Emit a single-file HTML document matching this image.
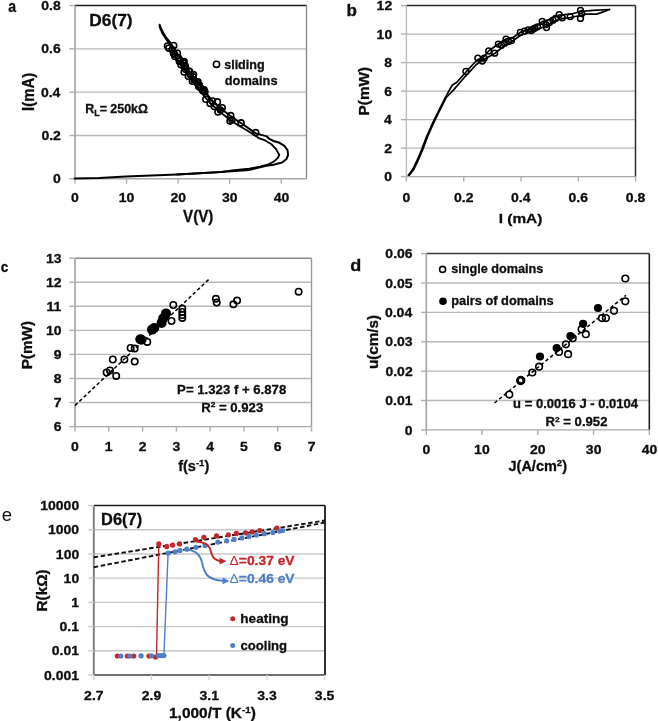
<!DOCTYPE html>
<html><head><meta charset="utf-8"><style>
html,body{margin:0;padding:0;background:#fff;width:658px;height:721px;overflow:hidden}
svg{display:block;filter:blur(0.3px)}
text{font-family:"Liberation Sans",sans-serif;stroke:#0e0e0e;stroke-width:0.3px}
</style></head><body>
<svg width="658" height="721" viewBox="0 0 658 721">
<rect width="658" height="721" fill="#fff"/>
<line x1="75.00" y1="135.48" x2="306.50" y2="135.48" stroke="#b8b8b8" stroke-width="1.4" />
<line x1="75.00" y1="92.16" x2="306.50" y2="92.16" stroke="#b8b8b8" stroke-width="1.4" />
<line x1="75.00" y1="48.84" x2="306.50" y2="48.84" stroke="#b8b8b8" stroke-width="1.4" />
<line x1="75.00" y1="5.50" x2="306.50" y2="5.50" stroke="#1e1e1e" stroke-width="1.4" />
<line x1="306.50" y1="5.50" x2="306.50" y2="178.80" stroke="#8c8c8c" stroke-width="1.4" />
<line x1="75.00" y1="5.50" x2="75.00" y2="179.50" stroke="#a8a8a8" stroke-width="1.7" />
<line x1="75.00" y1="178.80" x2="306.50" y2="178.80" stroke="#a8a8a8" stroke-width="1.4" />
<line x1="69.30" y1="178.80" x2="75.00" y2="178.80" stroke="#b0b0b0" stroke-width="1.4" />
<line x1="69.30" y1="135.48" x2="75.00" y2="135.48" stroke="#b0b0b0" stroke-width="1.4" />
<line x1="69.30" y1="92.16" x2="75.00" y2="92.16" stroke="#b0b0b0" stroke-width="1.4" />
<line x1="69.30" y1="48.84" x2="75.00" y2="48.84" stroke="#b0b0b0" stroke-width="1.4" />
<line x1="69.30" y1="5.52" x2="75.00" y2="5.52" stroke="#b0b0b0" stroke-width="1.4" />
<line x1="75.00" y1="178.80" x2="75.00" y2="183.80" stroke="#b0b0b0" stroke-width="1.4" />
<line x1="126.57" y1="178.80" x2="126.57" y2="183.80" stroke="#b0b0b0" stroke-width="1.4" />
<line x1="178.14" y1="178.80" x2="178.14" y2="183.80" stroke="#b0b0b0" stroke-width="1.4" />
<line x1="229.71" y1="178.80" x2="229.71" y2="183.80" stroke="#b0b0b0" stroke-width="1.4" />
<line x1="281.28" y1="178.80" x2="281.28" y2="183.80" stroke="#b0b0b0" stroke-width="1.4" />
<text x="53.09" y="183.42" font-size="13.20" font-weight="bold" fill="#0e0e0e" textLength="7.78" lengthAdjust="spacingAndGlyphs" >0</text>
<text x="41.41" y="140.10" font-size="13.20" font-weight="bold" fill="#0e0e0e" textLength="19.45" lengthAdjust="spacingAndGlyphs" >0.2</text>
<text x="40.92" y="96.78" font-size="13.20" font-weight="bold" fill="#0e0e0e" textLength="19.45" lengthAdjust="spacingAndGlyphs" >0.4</text>
<text x="41.34" y="53.46" font-size="13.20" font-weight="bold" fill="#0e0e0e" textLength="19.45" lengthAdjust="spacingAndGlyphs" >0.6</text>
<text x="41.27" y="10.14" font-size="13.20" font-weight="bold" fill="#0e0e0e" textLength="19.45" lengthAdjust="spacingAndGlyphs" >0.8</text>
<text x="71.12" y="201.62" font-size="13.20" font-weight="bold" fill="#0e0e0e" textLength="7.78" lengthAdjust="spacingAndGlyphs" >0</text>
<text x="118.66" y="201.62" font-size="13.20" font-weight="bold" fill="#0e0e0e" textLength="15.56" lengthAdjust="spacingAndGlyphs" >10</text>
<text x="170.41" y="201.62" font-size="13.20" font-weight="bold" fill="#0e0e0e" textLength="15.56" lengthAdjust="spacingAndGlyphs" >20</text>
<text x="222.05" y="201.62" font-size="13.20" font-weight="bold" fill="#0e0e0e" textLength="15.56" lengthAdjust="spacingAndGlyphs" >30</text>
<text x="273.69" y="201.62" font-size="13.20" font-weight="bold" fill="#0e0e0e" textLength="15.56" lengthAdjust="spacingAndGlyphs" >40</text>
<text x="183.12" y="222.35" font-size="15.94" font-weight="bold" fill="#0e0e0e" textLength="30.23" lengthAdjust="spacingAndGlyphs" >V(V)</text>
<text transform="translate(34.11,110.97) rotate(-90)" font-size="16.15" font-weight="bold" fill="#0e0e0e" textLength="38.12" lengthAdjust="spacingAndGlyphs" >I(mA)</text>
<text x="89.27" y="25.53" font-size="16.04" font-weight="bold" fill="#0e0e0e" textLength="43.32" lengthAdjust="spacingAndGlyphs" >D6(7)</text>
<text x="8.28" y="12.33" font-size="16.91" font-weight="bold" fill="#0e0e0e" textLength="7.80" lengthAdjust="spacingAndGlyphs" >a</text>
<text x="85.3" y="112.6" font-size="12" font-weight="bold" fill="#0e0e0e" textLength="62.6" lengthAdjust="spacingAndGlyphs">R<tspan font-size="8.5" dy="3.5">L</tspan><tspan dy="-3.5">= 250kΩ</tspan></text>
<circle cx="216.50" cy="64.30" r="3.1" fill="none" stroke="#000" stroke-width="1.6"/>
<text x="224.16" y="68.90" font-size="13.00" font-weight="bold" fill="#0e0e0e" textLength="40.48" lengthAdjust="spacingAndGlyphs" >sliding</text>
<text x="224.79" y="85.40" font-size="13.00" font-weight="bold" fill="#0e0e0e" textLength="52.75" lengthAdjust="spacingAndGlyphs" >domains</text>
<polyline points="74.6,178.5 99.2,178.0 125.9,176.6 177.0,174.5 220.8,172.0 249.0,170.0 266.2,165.8 273.5,164.7 282.0,162.5 286.3,159.3 288.1,155.0 287.5,150.1 284.4,145.9 279.6,142.8 273.5,141.0 269.8,139.2 266.2,136.1 261.3,134.9 255.3,133.1 242.5,124.0 232.5,117.6 222.5,109.8 212.5,101.0 203.8,90.5 195.8,80.2 188.8,70.6 182.5,61.0 176.0,51.5 170.5,43.0 166.6,38.2 163.3,33.0 161.0,28.5 159.7,24.7" fill="none" stroke="#000" stroke-width="2.0" stroke-linejoin="round" stroke-linecap="round" />
<polyline points="177.0,174.5 220.0,172.2 232.2,170.4 249.2,168.6 260.1,166.7 268.6,164.3 273.5,161.8 277.8,158.0 279.3,155.0 275.9,148.9 271.1,144.0 263.8,139.8 259.3,138.4 256.5,136.6 248.0,131.0 238.5,125.5 229.5,119.5 219.5,111.5 210.0,103.0 201.5,93.0 193.5,82.5 186.5,73.0 180.0,63.5 173.8,54.0 169.8,44.2 165.9,39.0 162.6,33.8 160.4,29.0 159.4,26.0" fill="none" stroke="#000" stroke-width="1.8" stroke-linejoin="round" stroke-linecap="round" />
<circle cx="167.50" cy="46.00" r="3.0" fill="none" stroke="#000" stroke-width="1.6"/>
<circle cx="173.70" cy="45.50" r="3.0" fill="none" stroke="#000" stroke-width="1.6"/>
<circle cx="174.20" cy="54.30" r="3.0" fill="none" stroke="#000" stroke-width="1.6"/>
<circle cx="177.40" cy="53.30" r="3.0" fill="none" stroke="#000" stroke-width="1.6"/>
<circle cx="179.40" cy="59.50" r="3.0" fill="none" stroke="#000" stroke-width="1.6"/>
<circle cx="184.10" cy="61.60" r="3.0" fill="none" stroke="#000" stroke-width="1.6"/>
<circle cx="181.00" cy="64.70" r="3.0" fill="none" stroke="#000" stroke-width="1.6"/>
<circle cx="185.20" cy="65.80" r="3.0" fill="none" stroke="#000" stroke-width="1.6"/>
<circle cx="184.10" cy="72.00" r="3.0" fill="none" stroke="#000" stroke-width="1.6"/>
<circle cx="189.30" cy="71.50" r="3.0" fill="none" stroke="#000" stroke-width="1.6"/>
<circle cx="193.50" cy="74.60" r="3.0" fill="none" stroke="#000" stroke-width="1.6"/>
<circle cx="188.30" cy="76.20" r="3.0" fill="none" stroke="#000" stroke-width="1.6"/>
<circle cx="192.40" cy="81.30" r="3.0" fill="none" stroke="#000" stroke-width="1.6"/>
<circle cx="196.60" cy="82.40" r="3.0" fill="none" stroke="#000" stroke-width="1.6"/>
<circle cx="198.70" cy="86.50" r="3.0" fill="none" stroke="#000" stroke-width="1.6"/>
<circle cx="202.80" cy="90.70" r="3.0" fill="none" stroke="#000" stroke-width="1.6"/>
<circle cx="204.90" cy="91.70" r="3.0" fill="none" stroke="#000" stroke-width="1.6"/>
<circle cx="205.80" cy="99.20" r="3.0" fill="none" stroke="#000" stroke-width="1.6"/>
<circle cx="210.10" cy="103.40" r="3.0" fill="none" stroke="#000" stroke-width="1.6"/>
<circle cx="212.50" cy="101.00" r="3.0" fill="none" stroke="#000" stroke-width="1.6"/>
<circle cx="217.40" cy="101.90" r="3.0" fill="none" stroke="#000" stroke-width="1.6"/>
<circle cx="214.30" cy="106.50" r="3.0" fill="none" stroke="#000" stroke-width="1.6"/>
<circle cx="222.20" cy="107.70" r="3.0" fill="none" stroke="#000" stroke-width="1.6"/>
<circle cx="218.00" cy="112.00" r="3.0" fill="none" stroke="#000" stroke-width="1.6"/>
<circle cx="220.40" cy="110.10" r="3.0" fill="none" stroke="#000" stroke-width="1.6"/>
<circle cx="230.70" cy="115.60" r="3.0" fill="none" stroke="#000" stroke-width="1.6"/>
<circle cx="232.00" cy="119.80" r="3.0" fill="none" stroke="#000" stroke-width="1.6"/>
<circle cx="230.10" cy="121.10" r="3.0" fill="none" stroke="#000" stroke-width="1.6"/>
<circle cx="241.10" cy="122.90" r="3.0" fill="none" stroke="#000" stroke-width="1.6"/>
<circle cx="255.70" cy="132.60" r="3.0" fill="none" stroke="#000" stroke-width="1.6"/>
<circle cx="168.81" cy="48.17" r="3.0" fill="none" stroke="#000" stroke-width="1.6"/>
<circle cx="172.35" cy="49.71" r="3.0" fill="none" stroke="#000" stroke-width="1.6"/>
<circle cx="173.47" cy="53.19" r="3.0" fill="none" stroke="#000" stroke-width="1.6"/>
<circle cx="174.90" cy="56.42" r="3.0" fill="none" stroke="#000" stroke-width="1.6"/>
<circle cx="178.44" cy="57.96" r="3.0" fill="none" stroke="#000" stroke-width="1.6"/>
<circle cx="179.40" cy="61.56" r="3.0" fill="none" stroke="#000" stroke-width="1.6"/>
<circle cx="183.17" cy="62.92" r="3.0" fill="none" stroke="#000" stroke-width="1.6"/>
<circle cx="184.21" cy="66.46" r="3.0" fill="none" stroke="#000" stroke-width="1.6"/>
<circle cx="185.72" cy="69.62" r="3.0" fill="none" stroke="#000" stroke-width="1.6"/>
<circle cx="189.26" cy="71.17" r="3.0" fill="none" stroke="#000" stroke-width="1.6"/>
<circle cx="190.38" cy="74.64" r="3.0" fill="none" stroke="#000" stroke-width="1.6"/>
<circle cx="193.13" cy="76.81" r="3.0" fill="none" stroke="#000" stroke-width="1.6"/>
<circle cx="194.17" cy="80.35" r="3.0" fill="none" stroke="#000" stroke-width="1.6"/>
<circle cx="197.95" cy="81.71" r="3.0" fill="none" stroke="#000" stroke-width="1.6"/>
<circle cx="199.30" cy="85.00" r="3.0" fill="none" stroke="#000" stroke-width="1.6"/>
<circle cx="200.88" cy="88.10" r="3.0" fill="none" stroke="#000" stroke-width="1.6"/>
<circle cx="204.11" cy="89.89" r="3.0" fill="none" stroke="#000" stroke-width="1.6"/>
<line x1="406.40" y1="148.10" x2="635.50" y2="148.10" stroke="#b8b8b8" stroke-width="1.4" />
<line x1="406.40" y1="119.60" x2="635.50" y2="119.60" stroke="#b8b8b8" stroke-width="1.4" />
<line x1="406.40" y1="91.10" x2="635.50" y2="91.10" stroke="#b8b8b8" stroke-width="1.4" />
<line x1="406.40" y1="62.60" x2="635.50" y2="62.60" stroke="#b8b8b8" stroke-width="1.4" />
<line x1="406.40" y1="34.10" x2="635.50" y2="34.10" stroke="#b8b8b8" stroke-width="1.4" />
<line x1="406.40" y1="5.50" x2="635.50" y2="5.50" stroke="#2a2a2a" stroke-width="1.4" />
<line x1="635.50" y1="5.50" x2="635.50" y2="176.60" stroke="#2a2a2a" stroke-width="1.5" />
<line x1="406.40" y1="5.50" x2="406.40" y2="177.30" stroke="#bdbdbd" stroke-width="1.4" />
<line x1="406.40" y1="176.60" x2="635.50" y2="176.60" stroke="#a8a8a8" stroke-width="1.4" />
<line x1="401.00" y1="176.60" x2="406.40" y2="176.60" stroke="#b0b0b0" stroke-width="1.4" />
<line x1="401.00" y1="148.10" x2="406.40" y2="148.10" stroke="#b0b0b0" stroke-width="1.4" />
<line x1="401.00" y1="119.60" x2="406.40" y2="119.60" stroke="#b0b0b0" stroke-width="1.4" />
<line x1="401.00" y1="91.10" x2="406.40" y2="91.10" stroke="#b0b0b0" stroke-width="1.4" />
<line x1="401.00" y1="62.60" x2="406.40" y2="62.60" stroke="#b0b0b0" stroke-width="1.4" />
<line x1="401.00" y1="34.10" x2="406.40" y2="34.10" stroke="#b0b0b0" stroke-width="1.4" />
<line x1="401.00" y1="5.60" x2="406.40" y2="5.60" stroke="#b0b0b0" stroke-width="1.4" />
<line x1="406.40" y1="176.60" x2="406.40" y2="181.60" stroke="#b0b0b0" stroke-width="1.4" />
<line x1="463.72" y1="176.60" x2="463.72" y2="181.60" stroke="#b0b0b0" stroke-width="1.4" />
<line x1="521.04" y1="176.60" x2="521.04" y2="181.60" stroke="#b0b0b0" stroke-width="1.4" />
<line x1="578.36" y1="176.60" x2="578.36" y2="181.60" stroke="#b0b0b0" stroke-width="1.4" />
<line x1="635.68" y1="176.60" x2="635.68" y2="181.60" stroke="#b0b0b0" stroke-width="1.4" />
<text x="384.39" y="181.22" font-size="13.20" font-weight="bold" fill="#0e0e0e" textLength="7.78" lengthAdjust="spacingAndGlyphs" >0</text>
<text x="384.39" y="152.72" font-size="13.20" font-weight="bold" fill="#0e0e0e" textLength="7.78" lengthAdjust="spacingAndGlyphs" >2</text>
<text x="383.90" y="124.09" font-size="13.20" font-weight="bold" fill="#0e0e0e" textLength="7.78" lengthAdjust="spacingAndGlyphs" >4</text>
<text x="384.32" y="95.72" font-size="13.20" font-weight="bold" fill="#0e0e0e" textLength="7.78" lengthAdjust="spacingAndGlyphs" >6</text>
<text x="384.25" y="67.22" font-size="13.20" font-weight="bold" fill="#0e0e0e" textLength="7.78" lengthAdjust="spacingAndGlyphs" >8</text>
<text x="376.63" y="38.72" font-size="13.20" font-weight="bold" fill="#0e0e0e" textLength="15.56" lengthAdjust="spacingAndGlyphs" >10</text>
<text x="376.63" y="10.22" font-size="13.20" font-weight="bold" fill="#0e0e0e" textLength="15.56" lengthAdjust="spacingAndGlyphs" >12</text>
<text x="402.52" y="201.72" font-size="13.20" font-weight="bold" fill="#0e0e0e" textLength="7.78" lengthAdjust="spacingAndGlyphs" >0</text>
<text x="454.00" y="201.72" font-size="13.20" font-weight="bold" fill="#0e0e0e" textLength="19.45" lengthAdjust="spacingAndGlyphs" >0.2</text>
<text x="511.07" y="201.72" font-size="13.20" font-weight="bold" fill="#0e0e0e" textLength="19.45" lengthAdjust="spacingAndGlyphs" >0.4</text>
<text x="568.60" y="201.72" font-size="13.20" font-weight="bold" fill="#0e0e0e" textLength="19.45" lengthAdjust="spacingAndGlyphs" >0.6</text>
<text x="625.89" y="201.72" font-size="13.20" font-weight="bold" fill="#0e0e0e" textLength="19.45" lengthAdjust="spacingAndGlyphs" >0.8</text>
<text x="498.80" y="223.13" font-size="13.69" font-weight="bold" fill="#0e0e0e" textLength="43.54" lengthAdjust="spacingAndGlyphs" >I (mA)</text>
<text transform="translate(368.95,115.40) rotate(-90)" font-size="14.55" font-weight="bold" fill="#0e0e0e" textLength="48.50" lengthAdjust="spacingAndGlyphs" >P(mW)</text>
<text x="346.49" y="15.74" font-size="15.92" font-weight="bold" fill="#0e0e0e" textLength="10.40" lengthAdjust="spacingAndGlyphs" >b</text>
<polyline points="408.3,175.2 412.5,169.8 416.6,161.5 421.6,149.9 426.6,136.5 433.3,121.6 439.9,108.3 444.9,98.3 449.9,89.1 452.4,85.0 456.6,82.5 465.7,72.3 476.5,60.5 484.0,56.5 488.7,51.0 498.3,44.0 506.0,39.0 512.0,38.2 520.3,32.4 528.2,29.5 535.0,27.5 542.2,21.6 550.0,19.3 559.2,15.0 570.2,14.2 581.0,11.5 592.8,10.3 609.5,9.5" fill="none" stroke="#000" stroke-width="1.7" stroke-linejoin="round" stroke-linecap="round" />
<polyline points="409.3,175.2 413.5,169.8 417.6,161.5 422.6,149.9 427.6,136.5 434.1,121.8 440.6,108.6 446.2,97.5 453.2,90.4 459.5,83.0 465.4,76.3 470.5,70.8 476.0,64.8 481.5,60.8 494.7,53.5 504.7,45.5 511.5,41.8 520.3,35.5 531.3,31.0 546.2,26.3 555.6,20.5 562.3,18.7 570.2,17.5 580.5,15.5 585.2,14.1 596.6,14.1 600.4,12.9 609.5,9.5" fill="none" stroke="#000" stroke-width="1.7" stroke-linejoin="round" stroke-linecap="round" />
<circle cx="465.90" cy="71.50" r="2.9" fill="none" stroke="#000" stroke-width="1.5"/>
<circle cx="477.80" cy="58.20" r="2.9" fill="none" stroke="#000" stroke-width="1.5"/>
<circle cx="482.30" cy="61.00" r="2.9" fill="none" stroke="#000" stroke-width="1.5"/>
<circle cx="484.20" cy="58.20" r="2.9" fill="none" stroke="#000" stroke-width="1.5"/>
<circle cx="488.70" cy="51.00" r="2.9" fill="none" stroke="#000" stroke-width="1.5"/>
<circle cx="494.70" cy="53.20" r="2.9" fill="none" stroke="#000" stroke-width="1.5"/>
<circle cx="498.30" cy="44.10" r="2.9" fill="none" stroke="#000" stroke-width="1.5"/>
<circle cx="504.70" cy="43.20" r="2.9" fill="none" stroke="#000" stroke-width="1.5"/>
<circle cx="506.00" cy="39.10" r="2.9" fill="none" stroke="#000" stroke-width="1.5"/>
<circle cx="511.50" cy="40.50" r="2.9" fill="none" stroke="#000" stroke-width="1.5"/>
<circle cx="520.30" cy="32.40" r="2.9" fill="none" stroke="#000" stroke-width="1.5"/>
<circle cx="528.20" cy="29.90" r="2.9" fill="none" stroke="#000" stroke-width="1.5"/>
<circle cx="531.30" cy="30.50" r="2.9" fill="none" stroke="#000" stroke-width="1.5"/>
<circle cx="534.90" cy="28.10" r="2.9" fill="none" stroke="#000" stroke-width="1.5"/>
<circle cx="542.20" cy="21.40" r="2.9" fill="none" stroke="#000" stroke-width="1.5"/>
<circle cx="545.90" cy="24.50" r="2.9" fill="none" stroke="#000" stroke-width="1.5"/>
<circle cx="546.50" cy="27.50" r="2.9" fill="none" stroke="#000" stroke-width="1.5"/>
<circle cx="555.60" cy="18.40" r="2.9" fill="none" stroke="#000" stroke-width="1.5"/>
<circle cx="559.20" cy="14.70" r="2.9" fill="none" stroke="#000" stroke-width="1.5"/>
<circle cx="562.30" cy="17.80" r="2.9" fill="none" stroke="#000" stroke-width="1.5"/>
<circle cx="570.20" cy="16.60" r="2.9" fill="none" stroke="#000" stroke-width="1.5"/>
<circle cx="580.50" cy="10.50" r="2.9" fill="none" stroke="#000" stroke-width="1.5"/>
<circle cx="580.50" cy="18.40" r="2.9" fill="none" stroke="#000" stroke-width="1.5"/>
<circle cx="581.70" cy="13.50" r="2.9" fill="none" stroke="#000" stroke-width="1.5"/>
<circle cx="524.50" cy="31.20" r="2.9" fill="none" stroke="#000" stroke-width="1.5"/>
<circle cx="533.00" cy="29.20" r="2.9" fill="none" stroke="#000" stroke-width="1.5"/>
<circle cx="537.50" cy="26.80" r="2.9" fill="none" stroke="#000" stroke-width="1.5"/>
<circle cx="549.50" cy="22.50" r="2.9" fill="none" stroke="#000" stroke-width="1.5"/>
<circle cx="553.00" cy="20.20" r="2.9" fill="none" stroke="#000" stroke-width="1.5"/>
<circle cx="501.50" cy="45.20" r="2.9" fill="none" stroke="#000" stroke-width="1.5"/>
<circle cx="508.50" cy="41.50" r="2.9" fill="none" stroke="#000" stroke-width="1.5"/>
<line x1="75.00" y1="402.54" x2="311.50" y2="402.54" stroke="#b8b8b8" stroke-width="1.4" />
<line x1="75.00" y1="378.48" x2="311.50" y2="378.48" stroke="#b8b8b8" stroke-width="1.4" />
<line x1="75.00" y1="354.42" x2="311.50" y2="354.42" stroke="#b8b8b8" stroke-width="1.4" />
<line x1="75.00" y1="330.36" x2="311.50" y2="330.36" stroke="#b8b8b8" stroke-width="1.4" />
<line x1="75.00" y1="306.30" x2="311.50" y2="306.30" stroke="#b8b8b8" stroke-width="1.4" />
<line x1="75.00" y1="282.24" x2="311.50" y2="282.24" stroke="#b8b8b8" stroke-width="1.4" />
<line x1="75.00" y1="258.20" x2="311.50" y2="258.20" stroke="#8a8a8a" stroke-width="1.4" />
<line x1="311.50" y1="258.20" x2="311.50" y2="426.60" stroke="#9a9a9a" stroke-width="1.4" />
<line x1="75.00" y1="258.20" x2="75.00" y2="427.30" stroke="#a8a8a8" stroke-width="1.7" />
<line x1="75.00" y1="426.60" x2="311.50" y2="426.60" stroke="#a8a8a8" stroke-width="1.4" />
<line x1="69.30" y1="426.60" x2="75.00" y2="426.60" stroke="#b0b0b0" stroke-width="1.4" />
<line x1="69.30" y1="402.54" x2="75.00" y2="402.54" stroke="#b0b0b0" stroke-width="1.4" />
<line x1="69.30" y1="378.48" x2="75.00" y2="378.48" stroke="#b0b0b0" stroke-width="1.4" />
<line x1="69.30" y1="354.42" x2="75.00" y2="354.42" stroke="#b0b0b0" stroke-width="1.4" />
<line x1="69.30" y1="330.36" x2="75.00" y2="330.36" stroke="#b0b0b0" stroke-width="1.4" />
<line x1="69.30" y1="306.30" x2="75.00" y2="306.30" stroke="#b0b0b0" stroke-width="1.4" />
<line x1="69.30" y1="282.24" x2="75.00" y2="282.24" stroke="#b0b0b0" stroke-width="1.4" />
<line x1="69.30" y1="258.18" x2="75.00" y2="258.18" stroke="#b0b0b0" stroke-width="1.4" />
<line x1="75.00" y1="426.60" x2="75.00" y2="431.60" stroke="#b0b0b0" stroke-width="1.4" />
<line x1="108.79" y1="426.60" x2="108.79" y2="431.60" stroke="#b0b0b0" stroke-width="1.4" />
<line x1="142.58" y1="426.60" x2="142.58" y2="431.60" stroke="#b0b0b0" stroke-width="1.4" />
<line x1="176.37" y1="426.60" x2="176.37" y2="431.60" stroke="#b0b0b0" stroke-width="1.4" />
<line x1="210.16" y1="426.60" x2="210.16" y2="431.60" stroke="#b0b0b0" stroke-width="1.4" />
<line x1="243.95" y1="426.60" x2="243.95" y2="431.60" stroke="#b0b0b0" stroke-width="1.4" />
<line x1="277.74" y1="426.60" x2="277.74" y2="431.60" stroke="#b0b0b0" stroke-width="1.4" />
<line x1="311.53" y1="426.60" x2="311.53" y2="431.60" stroke="#b0b0b0" stroke-width="1.4" />
<text x="53.72" y="431.22" font-size="13.20" font-weight="bold" fill="#0e0e0e" textLength="7.78" lengthAdjust="spacingAndGlyphs" >6</text>
<text x="53.79" y="407.03" font-size="13.20" font-weight="bold" fill="#0e0e0e" textLength="7.78" lengthAdjust="spacingAndGlyphs" >7</text>
<text x="53.65" y="383.10" font-size="13.20" font-weight="bold" fill="#0e0e0e" textLength="7.78" lengthAdjust="spacingAndGlyphs" >8</text>
<text x="53.72" y="359.04" font-size="13.20" font-weight="bold" fill="#0e0e0e" textLength="7.78" lengthAdjust="spacingAndGlyphs" >9</text>
<text x="46.03" y="334.98" font-size="13.20" font-weight="bold" fill="#0e0e0e" textLength="15.56" lengthAdjust="spacingAndGlyphs" >10</text>
<text x="46.59" y="310.79" font-size="13.20" font-weight="bold" fill="#0e0e0e" textLength="14.79" lengthAdjust="spacingAndGlyphs" >11</text>
<text x="46.03" y="286.86" font-size="13.20" font-weight="bold" fill="#0e0e0e" textLength="15.56" lengthAdjust="spacingAndGlyphs" >12</text>
<text x="45.96" y="262.80" font-size="13.20" font-weight="bold" fill="#0e0e0e" textLength="15.56" lengthAdjust="spacingAndGlyphs" >13</text>
<text x="71.12" y="450.92" font-size="13.20" font-weight="bold" fill="#0e0e0e" textLength="7.78" lengthAdjust="spacingAndGlyphs" >0</text>
<text x="104.66" y="450.79" font-size="13.20" font-weight="bold" fill="#0e0e0e" textLength="7.78" lengthAdjust="spacingAndGlyphs" >1</text>
<text x="138.73" y="450.92" font-size="13.20" font-weight="bold" fill="#0e0e0e" textLength="7.78" lengthAdjust="spacingAndGlyphs" >2</text>
<text x="172.56" y="450.92" font-size="13.20" font-weight="bold" fill="#0e0e0e" textLength="7.78" lengthAdjust="spacingAndGlyphs" >3</text>
<text x="206.21" y="450.79" font-size="13.20" font-weight="bold" fill="#0e0e0e" textLength="7.78" lengthAdjust="spacingAndGlyphs" >4</text>
<text x="240.03" y="450.79" font-size="13.20" font-weight="bold" fill="#0e0e0e" textLength="7.78" lengthAdjust="spacingAndGlyphs" >5</text>
<text x="273.86" y="450.92" font-size="13.20" font-weight="bold" fill="#0e0e0e" textLength="7.78" lengthAdjust="spacingAndGlyphs" >6</text>
<text x="307.65" y="450.79" font-size="13.20" font-weight="bold" fill="#0e0e0e" textLength="7.78" lengthAdjust="spacingAndGlyphs" >7</text>
<text x="178.2" y="470.6" font-size="14.5" font-weight="bold" fill="#0e0e0e">f(s<tspan font-size="9.5" dy="-5">-1</tspan><tspan dy="5">)</tspan></text>
<text transform="translate(31.57,369.19) rotate(-90)" font-size="14.44" font-weight="bold" fill="#0e0e0e" textLength="48.29" lengthAdjust="spacingAndGlyphs" >P(mW)</text>
<text x="0.76" y="271.55" font-size="15.09" font-weight="bold" fill="#0e0e0e" textLength="7.57" lengthAdjust="spacingAndGlyphs" >c</text>
<line x1="75.00" y1="405.48" x2="210.16" y2="278.15" stroke="#000" stroke-width="1.5" stroke-dasharray="3.5,2.5"/>
<text x="177.14" y="394.33" font-size="12.60" font-weight="bold" fill="#0e0e0e" textLength="109.14" lengthAdjust="spacingAndGlyphs" >P= 1.323 f + 6.878</text>
<text x="201.2" y="411.8" font-size="12.6" font-weight="bold" fill="#0e0e0e" textLength="62" lengthAdjust="spacingAndGlyphs">R<tspan font-size="8" dy="-4.5">2</tspan><tspan dy="4.5"> = 0.923</tspan></text>
<circle cx="106.60" cy="372.50" r="3.2" fill="none" stroke="#000" stroke-width="1.6"/>
<circle cx="110.00" cy="370.40" r="3.2" fill="none" stroke="#000" stroke-width="1.6"/>
<circle cx="116.20" cy="375.90" r="3.2" fill="none" stroke="#000" stroke-width="1.6"/>
<circle cx="112.80" cy="359.50" r="3.2" fill="none" stroke="#000" stroke-width="1.6"/>
<circle cx="124.40" cy="359.50" r="3.2" fill="none" stroke="#000" stroke-width="1.6"/>
<circle cx="134.70" cy="361.60" r="3.2" fill="none" stroke="#000" stroke-width="1.6"/>
<circle cx="130.60" cy="347.90" r="3.2" fill="none" stroke="#000" stroke-width="1.6"/>
<circle cx="134.70" cy="348.60" r="3.2" fill="none" stroke="#000" stroke-width="1.6"/>
<circle cx="147.30" cy="341.90" r="3.2" fill="none" stroke="#000" stroke-width="1.6"/>
<circle cx="171.50" cy="321.00" r="3.2" fill="none" stroke="#000" stroke-width="1.6"/>
<circle cx="173.30" cy="305.00" r="3.2" fill="none" stroke="#000" stroke-width="1.6"/>
<circle cx="182.30" cy="308.60" r="3.2" fill="none" stroke="#000" stroke-width="1.6"/>
<circle cx="182.30" cy="312.00" r="3.2" fill="none" stroke="#000" stroke-width="1.6"/>
<circle cx="182.30" cy="315.00" r="3.2" fill="none" stroke="#000" stroke-width="1.6"/>
<circle cx="182.30" cy="317.90" r="3.2" fill="none" stroke="#000" stroke-width="1.6"/>
<circle cx="215.90" cy="298.80" r="3.2" fill="none" stroke="#000" stroke-width="1.6"/>
<circle cx="216.70" cy="302.60" r="3.2" fill="none" stroke="#000" stroke-width="1.6"/>
<circle cx="233.40" cy="304.30" r="3.2" fill="none" stroke="#000" stroke-width="1.6"/>
<circle cx="237.10" cy="300.60" r="3.2" fill="none" stroke="#000" stroke-width="1.6"/>
<circle cx="298.60" cy="291.70" r="3.2" fill="none" stroke="#000" stroke-width="1.6"/>
<circle cx="140.30" cy="339.30" r="5.0" fill="#000"/>
<circle cx="141.50" cy="339.80" r="5.0" fill="#000"/>
<circle cx="152.00" cy="329.60" r="5.0" fill="#000"/>
<circle cx="154.30" cy="328.00" r="5.0" fill="#000"/>
<circle cx="161.60" cy="322.90" r="5.0" fill="#000"/>
<circle cx="163.20" cy="318.20" r="5.0" fill="#000"/>
<circle cx="166.00" cy="313.40" r="5.0" fill="#000"/>
<line x1="426.30" y1="400.52" x2="649.30" y2="400.52" stroke="#b8b8b8" stroke-width="1.4" />
<line x1="426.30" y1="371.14" x2="649.30" y2="371.14" stroke="#b8b8b8" stroke-width="1.4" />
<line x1="426.30" y1="341.76" x2="649.30" y2="341.76" stroke="#b8b8b8" stroke-width="1.4" />
<line x1="426.30" y1="312.38" x2="649.30" y2="312.38" stroke="#b8b8b8" stroke-width="1.4" />
<line x1="426.30" y1="283.00" x2="649.30" y2="283.00" stroke="#b8b8b8" stroke-width="1.4" />
<line x1="426.30" y1="253.60" x2="649.30" y2="253.60" stroke="#3a3a3a" stroke-width="1.5" />
<line x1="649.30" y1="253.60" x2="649.30" y2="429.90" stroke="#222" stroke-width="1.6" />
<line x1="426.30" y1="253.60" x2="426.30" y2="430.60" stroke="#a8a8a8" stroke-width="1.7" />
<line x1="426.30" y1="429.90" x2="649.30" y2="429.90" stroke="#a8a8a8" stroke-width="1.4" />
<line x1="421.00" y1="429.90" x2="426.30" y2="429.90" stroke="#b0b0b0" stroke-width="1.4" />
<line x1="421.00" y1="400.52" x2="426.30" y2="400.52" stroke="#b0b0b0" stroke-width="1.4" />
<line x1="421.00" y1="371.14" x2="426.30" y2="371.14" stroke="#b0b0b0" stroke-width="1.4" />
<line x1="421.00" y1="341.76" x2="426.30" y2="341.76" stroke="#b0b0b0" stroke-width="1.4" />
<line x1="421.00" y1="312.38" x2="426.30" y2="312.38" stroke="#b0b0b0" stroke-width="1.4" />
<line x1="421.00" y1="283.00" x2="426.30" y2="283.00" stroke="#b0b0b0" stroke-width="1.4" />
<line x1="421.00" y1="253.62" x2="426.30" y2="253.62" stroke="#b0b0b0" stroke-width="1.4" />
<line x1="426.30" y1="429.90" x2="426.30" y2="434.90" stroke="#b0b0b0" stroke-width="1.4" />
<line x1="482.05" y1="429.90" x2="482.05" y2="434.90" stroke="#b0b0b0" stroke-width="1.4" />
<line x1="537.80" y1="429.90" x2="537.80" y2="434.90" stroke="#b0b0b0" stroke-width="1.4" />
<line x1="593.55" y1="429.90" x2="593.55" y2="434.90" stroke="#b0b0b0" stroke-width="1.4" />
<line x1="649.30" y1="429.90" x2="649.30" y2="434.90" stroke="#b0b0b0" stroke-width="1.4" />
<text x="404.89" y="434.52" font-size="13.20" font-weight="bold" fill="#0e0e0e" textLength="7.78" lengthAdjust="spacingAndGlyphs" >0</text>
<text x="385.24" y="405.14" font-size="13.20" font-weight="bold" fill="#0e0e0e" textLength="27.23" lengthAdjust="spacingAndGlyphs" >0.01</text>
<text x="385.45" y="375.76" font-size="13.20" font-weight="bold" fill="#0e0e0e" textLength="27.23" lengthAdjust="spacingAndGlyphs" >0.02</text>
<text x="385.38" y="346.38" font-size="13.20" font-weight="bold" fill="#0e0e0e" textLength="27.23" lengthAdjust="spacingAndGlyphs" >0.03</text>
<text x="384.96" y="317.00" font-size="13.20" font-weight="bold" fill="#0e0e0e" textLength="27.23" lengthAdjust="spacingAndGlyphs" >0.04</text>
<text x="385.24" y="287.62" font-size="13.20" font-weight="bold" fill="#0e0e0e" textLength="27.23" lengthAdjust="spacingAndGlyphs" >0.05</text>
<text x="385.38" y="258.24" font-size="13.20" font-weight="bold" fill="#0e0e0e" textLength="27.23" lengthAdjust="spacingAndGlyphs" >0.06</text>
<text x="422.42" y="453.92" font-size="13.20" font-weight="bold" fill="#0e0e0e" textLength="7.78" lengthAdjust="spacingAndGlyphs" >0</text>
<text x="474.14" y="453.92" font-size="13.20" font-weight="bold" fill="#0e0e0e" textLength="15.56" lengthAdjust="spacingAndGlyphs" >10</text>
<text x="530.07" y="453.92" font-size="13.20" font-weight="bold" fill="#0e0e0e" textLength="15.56" lengthAdjust="spacingAndGlyphs" >20</text>
<text x="585.89" y="453.92" font-size="13.20" font-weight="bold" fill="#0e0e0e" textLength="15.56" lengthAdjust="spacingAndGlyphs" >30</text>
<text x="641.71" y="453.92" font-size="13.20" font-weight="bold" fill="#0e0e0e" textLength="15.56" lengthAdjust="spacingAndGlyphs" >40</text>
<text x="508.5" y="470.9" font-size="14.5" font-weight="bold" fill="#0e0e0e">J(A/cm<tspan font-size="9.5" dy="-5">2</tspan><tspan dy="5">)</tspan></text>
<text transform="translate(377.98,369.12) rotate(-90)" font-size="14.87" font-weight="bold" fill="#0e0e0e" textLength="54.32" lengthAdjust="spacingAndGlyphs" >u(cm/s)</text>
<text x="350.18" y="270.74" font-size="15.92" font-weight="bold" fill="#0e0e0e" textLength="11.01" lengthAdjust="spacingAndGlyphs" >d</text>
<line x1="494.50" y1="403.00" x2="625.90" y2="295.30" stroke="#000" stroke-width="1.5" stroke-dasharray="3.5,2.5"/>
<text x="513.12" y="408.42" font-size="12.60" font-weight="bold" fill="#0e0e0e" textLength="124.95" lengthAdjust="spacingAndGlyphs" >u = 0.0016 J - 0.0104</text>
<text x="545.5" y="426.2" font-size="12.6" font-weight="bold" fill="#0e0e0e" textLength="62" lengthAdjust="spacingAndGlyphs">R<tspan font-size="8" dy="-4.5">2</tspan><tspan dy="4.5"> = 0.952</tspan></text>
<circle cx="442.60" cy="269.40" r="3.0" fill="none" stroke="#000" stroke-width="1.6"/>
<text x="451.26" y="273.24" font-size="13.16" font-weight="bold" fill="#0e0e0e" textLength="92.14" lengthAdjust="spacingAndGlyphs" >single domains</text>
<circle cx="443.00" cy="301.30" r="3.8" fill="#000"/>
<text x="451.27" y="305.15" font-size="12.62" font-weight="bold" fill="#0e0e0e" textLength="102.46" lengthAdjust="spacingAndGlyphs" >pairs of domains</text>
<circle cx="509.30" cy="394.60" r="3.3" fill="none" stroke="#000" stroke-width="1.6"/>
<circle cx="520.70" cy="380.50" r="3.3" fill="none" stroke="#000" stroke-width="1.6"/>
<circle cx="532.30" cy="372.50" r="3.3" fill="none" stroke="#000" stroke-width="1.6"/>
<circle cx="539.10" cy="366.70" r="3.3" fill="none" stroke="#000" stroke-width="1.6"/>
<circle cx="559.00" cy="351.90" r="3.3" fill="none" stroke="#000" stroke-width="1.6"/>
<circle cx="565.90" cy="344.30" r="3.3" fill="none" stroke="#000" stroke-width="1.6"/>
<circle cx="568.10" cy="354.20" r="3.3" fill="none" stroke="#000" stroke-width="1.6"/>
<circle cx="572.70" cy="338.20" r="3.3" fill="none" stroke="#000" stroke-width="1.6"/>
<circle cx="581.60" cy="329.30" r="3.3" fill="none" stroke="#000" stroke-width="1.6"/>
<circle cx="585.80" cy="334.20" r="3.3" fill="none" stroke="#000" stroke-width="1.6"/>
<circle cx="601.90" cy="318.10" r="3.3" fill="none" stroke="#000" stroke-width="1.6"/>
<circle cx="605.90" cy="318.10" r="3.3" fill="none" stroke="#000" stroke-width="1.6"/>
<circle cx="614.00" cy="310.80" r="3.3" fill="none" stroke="#000" stroke-width="1.6"/>
<circle cx="625.30" cy="301.30" r="3.3" fill="none" stroke="#000" stroke-width="1.6"/>
<circle cx="625.30" cy="278.50" r="3.3" fill="none" stroke="#000" stroke-width="1.6"/>
<circle cx="520.70" cy="380.50" r="3.3" fill="none" stroke="#000" stroke-width="2.8"/>
<circle cx="540.00" cy="356.50" r="4.1" fill="#000"/>
<circle cx="556.70" cy="348.10" r="4.1" fill="#000"/>
<circle cx="570.40" cy="336.00" r="4.1" fill="#000"/>
<circle cx="583.10" cy="323.80" r="4.1" fill="#000"/>
<circle cx="598.00" cy="308.00" r="4.1" fill="#000"/>
<line x1="93.80" y1="650.79" x2="325.00" y2="650.79" stroke="#c8c8c8" stroke-width="1.4" />
<line x1="93.80" y1="626.58" x2="325.00" y2="626.58" stroke="#c8c8c8" stroke-width="1.4" />
<line x1="93.80" y1="602.37" x2="325.00" y2="602.37" stroke="#c8c8c8" stroke-width="1.4" />
<line x1="93.80" y1="578.16" x2="325.00" y2="578.16" stroke="#c8c8c8" stroke-width="1.4" />
<line x1="93.80" y1="553.95" x2="325.00" y2="553.95" stroke="#c8c8c8" stroke-width="1.4" />
<line x1="93.80" y1="529.74" x2="325.00" y2="529.74" stroke="#c8c8c8" stroke-width="1.4" />
<line x1="93.80" y1="505.50" x2="325.00" y2="505.50" stroke="#1a1a1a" stroke-width="1.7" />
<line x1="325.00" y1="505.50" x2="325.00" y2="675.00" stroke="#1a1a1a" stroke-width="1.8" />
<line x1="93.80" y1="675.00" x2="325.00" y2="675.00" stroke="#404040" stroke-width="1.7" />
<line x1="93.80" y1="505.50" x2="93.80" y2="675.00" stroke="#7a7a7a" stroke-width="1.9" />
<line x1="88.30" y1="675.00" x2="93.80" y2="675.00" stroke="#cccccc" stroke-width="1.4" />
<line x1="88.30" y1="650.79" x2="93.80" y2="650.79" stroke="#cccccc" stroke-width="1.4" />
<line x1="88.30" y1="626.58" x2="93.80" y2="626.58" stroke="#cccccc" stroke-width="1.4" />
<line x1="88.30" y1="602.37" x2="93.80" y2="602.37" stroke="#cccccc" stroke-width="1.4" />
<line x1="88.30" y1="578.16" x2="93.80" y2="578.16" stroke="#cccccc" stroke-width="1.4" />
<line x1="88.30" y1="553.95" x2="93.80" y2="553.95" stroke="#cccccc" stroke-width="1.4" />
<line x1="88.30" y1="529.74" x2="93.80" y2="529.74" stroke="#cccccc" stroke-width="1.4" />
<line x1="88.30" y1="505.53" x2="93.80" y2="505.53" stroke="#cccccc" stroke-width="1.4" />
<line x1="93.80" y1="675.00" x2="93.80" y2="680.00" stroke="#d4d4d4" stroke-width="1.4" />
<line x1="151.50" y1="675.00" x2="151.50" y2="680.00" stroke="#d4d4d4" stroke-width="1.4" />
<line x1="209.20" y1="675.00" x2="209.20" y2="680.00" stroke="#d4d4d4" stroke-width="1.4" />
<line x1="266.90" y1="675.00" x2="266.90" y2="680.00" stroke="#d4d4d4" stroke-width="1.4" />
<line x1="324.60" y1="675.00" x2="324.60" y2="680.00" stroke="#d4d4d4" stroke-width="1.4" />
<text x="43.97" y="679.62" font-size="13.20" font-weight="bold" fill="#0e0e0e" textLength="35.01" lengthAdjust="spacingAndGlyphs" >0.001</text>
<text x="51.74" y="655.41" font-size="13.20" font-weight="bold" fill="#0e0e0e" textLength="27.23" lengthAdjust="spacingAndGlyphs" >0.01</text>
<text x="59.50" y="631.20" font-size="13.20" font-weight="bold" fill="#0e0e0e" textLength="19.45" lengthAdjust="spacingAndGlyphs" >0.1</text>
<text x="71.18" y="606.86" font-size="13.20" font-weight="bold" fill="#0e0e0e" textLength="7.78" lengthAdjust="spacingAndGlyphs" >1</text>
<text x="63.63" y="582.78" font-size="13.20" font-weight="bold" fill="#0e0e0e" textLength="15.56" lengthAdjust="spacingAndGlyphs" >10</text>
<text x="55.86" y="558.57" font-size="13.20" font-weight="bold" fill="#0e0e0e" textLength="23.35" lengthAdjust="spacingAndGlyphs" >100</text>
<text x="48.03" y="534.36" font-size="13.20" font-weight="bold" fill="#0e0e0e" textLength="31.13" lengthAdjust="spacingAndGlyphs" >1000</text>
<text x="40.26" y="510.15" font-size="13.20" font-weight="bold" fill="#0e0e0e" textLength="38.91" lengthAdjust="spacingAndGlyphs" >10000</text>
<text x="84.11" y="699.52" font-size="13.20" font-weight="bold" fill="#0e0e0e" textLength="19.45" lengthAdjust="spacingAndGlyphs" >2.7</text>
<text x="141.78" y="699.52" font-size="13.20" font-weight="bold" fill="#0e0e0e" textLength="19.45" lengthAdjust="spacingAndGlyphs" >2.9</text>
<text x="199.48" y="699.52" font-size="13.20" font-weight="bold" fill="#0e0e0e" textLength="19.45" lengthAdjust="spacingAndGlyphs" >3.1</text>
<text x="257.25" y="699.52" font-size="13.20" font-weight="bold" fill="#0e0e0e" textLength="19.45" lengthAdjust="spacingAndGlyphs" >3.3</text>
<text x="314.88" y="699.52" font-size="13.20" font-weight="bold" fill="#0e0e0e" textLength="19.45" lengthAdjust="spacingAndGlyphs" >3.5</text>
<text x="169" y="717.7" font-size="14" font-weight="bold" fill="#0e0e0e" textLength="87" lengthAdjust="spacingAndGlyphs">1,000/T (K<tspan font-size="9" dy="-5">-1</tspan><tspan dy="5">)</tspan></text>
<text transform="translate(46.65,611.60) rotate(-90)" font-size="14.55" font-weight="bold" fill="#0e0e0e" textLength="42.31" lengthAdjust="spacingAndGlyphs" >R(kΩ)</text>
<text x="1.76" y="521.21" font-size="19.09" font-weight="normal" fill="#0e0e0e" textLength="10.30" lengthAdjust="spacingAndGlyphs" style="stroke:none">e</text>
<text x="101.03" y="525.23" font-size="17.01" font-weight="bold" fill="#0e0e0e" textLength="41.12" lengthAdjust="spacingAndGlyphs" >D6(7)</text>
<line x1="93.80" y1="557.30" x2="325.00" y2="520.50" stroke="#111" stroke-width="1.9" stroke-dasharray="4.5,2.5"/>
<line x1="93.80" y1="567.20" x2="325.00" y2="522.50" stroke="#111" stroke-width="1.9" stroke-dasharray="4.5,2.5"/>
<line x1="156.50" y1="656.50" x2="158.80" y2="544.00" stroke="#c3262c" stroke-width="1.4" />
<line x1="163.90" y1="656.00" x2="168.10" y2="553.00" stroke="#4f7fc6" stroke-width="1.4" />
<circle cx="117.40" cy="656.00" r="2.6" fill="#c3262c"/>
<circle cx="127.30" cy="656.00" r="2.6" fill="#c3262c"/>
<circle cx="133.70" cy="656.00" r="2.6" fill="#c3262c"/>
<circle cx="149.00" cy="656.00" r="2.6" fill="#c3262c"/>
<circle cx="155.50" cy="657.00" r="2.6" fill="#c3262c"/>
<circle cx="120.90" cy="656.00" r="2.6" fill="#4f7fc6"/>
<circle cx="129.80" cy="656.00" r="2.6" fill="#4f7fc6"/>
<circle cx="141.10" cy="655.80" r="2.6" fill="#4f7fc6"/>
<circle cx="151.50" cy="655.80" r="2.6" fill="#4f7fc6"/>
<circle cx="158.40" cy="655.60" r="2.6" fill="#4f7fc6"/>
<circle cx="161.40" cy="655.60" r="2.6" fill="#4f7fc6"/>
<circle cx="163.90" cy="655.60" r="2.6" fill="#4f7fc6"/>
<circle cx="158.80" cy="543.90" r="2.6" fill="#c3262c"/>
<circle cx="166.70" cy="546.40" r="2.6" fill="#c3262c"/>
<circle cx="172.60" cy="545.10" r="2.6" fill="#c3262c"/>
<circle cx="179.50" cy="543.90" r="2.6" fill="#c3262c"/>
<circle cx="195.50" cy="539.60" r="2.6" fill="#c3262c"/>
<circle cx="203.90" cy="537.30" r="2.6" fill="#c3262c"/>
<circle cx="216.50" cy="535.90" r="2.6" fill="#c3262c"/>
<circle cx="228.40" cy="534.80" r="2.6" fill="#c3262c"/>
<circle cx="236.40" cy="533.40" r="2.6" fill="#c3262c"/>
<circle cx="245.50" cy="532.80" r="2.6" fill="#c3262c"/>
<circle cx="252.10" cy="531.90" r="2.6" fill="#c3262c"/>
<circle cx="259.80" cy="530.50" r="2.6" fill="#c3262c"/>
<circle cx="276.90" cy="528.20" r="2.6" fill="#c3262c"/>
<circle cx="168.10" cy="553.00" r="2.6" fill="#4f7fc6"/>
<circle cx="175.00" cy="551.80" r="2.6" fill="#4f7fc6"/>
<circle cx="179.90" cy="550.40" r="2.6" fill="#4f7fc6"/>
<circle cx="186.80" cy="549.20" r="2.6" fill="#4f7fc6"/>
<circle cx="196.00" cy="547.30" r="2.6" fill="#4f7fc6"/>
<circle cx="205.10" cy="545.50" r="2.6" fill="#4f7fc6"/>
<circle cx="217.80" cy="542.10" r="2.6" fill="#4f7fc6"/>
<circle cx="226.70" cy="540.80" r="2.6" fill="#4f7fc6"/>
<circle cx="234.10" cy="539.40" r="2.6" fill="#4f7fc6"/>
<circle cx="241.90" cy="537.90" r="2.6" fill="#4f7fc6"/>
<circle cx="248.90" cy="536.40" r="2.6" fill="#4f7fc6"/>
<circle cx="256.30" cy="535.10" r="2.6" fill="#4f7fc6"/>
<circle cx="264.30" cy="533.70" r="2.6" fill="#4f7fc6"/>
<circle cx="272.90" cy="532.60" r="2.6" fill="#4f7fc6"/>
<circle cx="279.70" cy="531.10" r="2.6" fill="#4f7fc6"/>
<circle cx="282.60" cy="530.50" r="2.6" fill="#4f7fc6"/>
<path d="M196.5,541.5 C202,542 207,543 209.5,547.5 C211.5,551.5 211,556 215,559 C217,560.5 219,561 221,561" fill="none" stroke="#c3262c" stroke-width="1.9" stroke-linejoin="round" stroke-linecap="round" />
<polygon points="226.5,561.3 219.5,557.8 219.5,564.6" fill="#c3262c"/>
<path d="M186.5,549.3 C193,550 198,553 200.5,558 C203,563 202.5,570 207,575 C211,579.5 217,580.5 223,580.7" fill="none" stroke="#4f7fc6" stroke-width="1.9" stroke-linejoin="round" stroke-linecap="round" />
<polygon points="229.5,580.9 222.5,577.5 222.5,584.3" fill="#4f7fc6"/>
<text x="229.6" y="564.5" font-size="13.2" font-weight="bold" fill="#c3262c" style="stroke:#c3262c" textLength="65" lengthAdjust="spacingAndGlyphs"><tspan font-weight="normal" style="stroke-width:0">Δ</tspan>=0.37 eV</text>
<text x="229.6" y="583.1" font-size="13.2" font-weight="bold" fill="#4f7fc6" style="stroke:#4f7fc6" textLength="65" lengthAdjust="spacingAndGlyphs"><tspan font-weight="normal" style="stroke-width:0">Δ</tspan>=0.46 eV</text>
<circle cx="232.70" cy="618.80" r="2.5" fill="#c3262c"/>
<circle cx="232.70" cy="645.40" r="2.5" fill="#4f7fc6"/>
<text x="240.25" y="622.85" font-size="13.58" font-weight="bold" fill="#0e0e0e" textLength="48.45" lengthAdjust="spacingAndGlyphs" >heating</text>
<text x="240.48" y="649.56" font-size="13.05" font-weight="bold" fill="#0e0e0e" textLength="46.58" lengthAdjust="spacingAndGlyphs" >cooling</text>
</svg>
</body></html>
